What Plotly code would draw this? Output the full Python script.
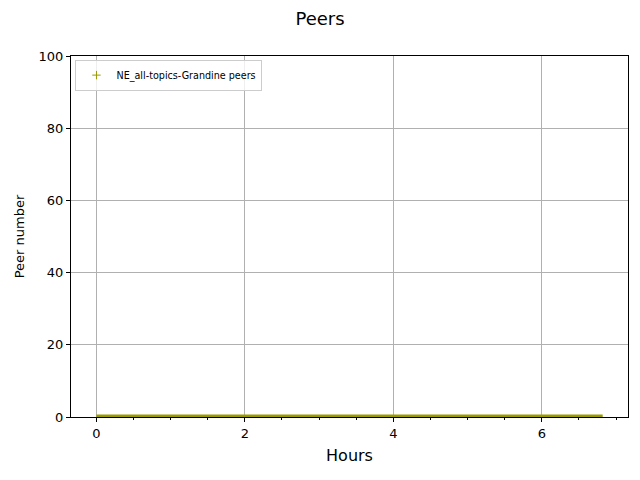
import plotly.graph_objects as go

hours = [0.0, 0.25, 0.5, 0.75, 1.0, 1.25, 1.5, 1.75, 2.0, 2.25, 2.5, 2.75,
         3.0, 3.25, 3.5, 3.75, 4.0, 4.25, 4.5, 4.75, 5.0, 5.25, 5.5, 5.75,
         6.0, 6.25, 6.5, 6.75, 6.82]
peers = [0] * len(hours)
series_name = 'NE_all-topics-Grandine peers'
x_ticks = [0, 2, 4, 6]
y_ticks = [0, 20, 40, 60, 80, 100]

font = 'DejaVu Sans'
olive = '#999900'
fig = go.Figure()
# dense '+' markers merge into a solid band sitting on the x axis
fig.add_trace(go.Scatter(
    x=hours, y=peers, mode='lines', name=series_name, showlegend=False,
    line=dict(color=olive, width=5),
))
# legend entry shows only the '+' marker
fig.add_trace(go.Scatter(
    x=[None], y=[None], mode='markers', name=series_name,
    marker=dict(symbol='cross-thin', size=6, line=dict(color=olive, width=1)),
))

axis_common = dict(showline=True, linecolor='black', linewidth=1, mirror=True,
                   ticks='outside', ticklen=4, tickcolor='black', automargin=False,
                   showgrid=True, gridcolor='#b0b0b0', gridwidth=0.8,
                   zeroline=False, tickfont=dict(size=13, color='black', family=font))

# page has a body margin, so the figure is a bit smaller and margins shifted
fig.update_layout(
    width=632, height=472,
    plot_bgcolor='white', paper_bgcolor='white',
    margin=dict(l=63, r=12, t=48, b=63),
    title=dict(text='Peers', x=0.4937, xanchor='center', y=0.977, yanchor='middle',
               font=dict(size=18, color='black', family=font)),
    xaxis=dict(range=[-0.341, 7.161], tickvals=x_ticks,
               minor=dict(dtick=0.5, ticks='outside', ticklen=2, tickcolor='black', showgrid=False),
               title=dict(text='Hours', font=dict(size=16, color='black', family=font), standoff=10),
               **axis_common),
    yaxis=dict(range=[0, 100], tickvals=y_ticks,
               title=dict(text='Peer number', font=dict(size=13, color='black', family=font), standoff=11),
               **axis_common),
    showlegend=True,
    legend=dict(x=0.008, y=0.99, xanchor='left', yanchor='top',
                bgcolor='rgba(255,255,255,0.8)', bordercolor='#cccccc', borderwidth=1,
                itemwidth=30, font=dict(size=9.6, color='black', family=font)),
)

fig.write_html("out.html")
